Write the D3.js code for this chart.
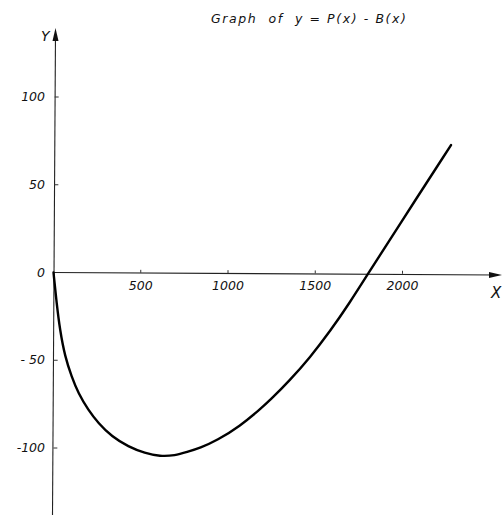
<!DOCTYPE html>
<html><head><meta charset="utf-8">
<script src="https://cdn.jsdelivr.net/npm/d3@7"></script>
<style>body{margin:0;background:#fff}svg{display:block}</style>
</head><body>
<script>
const xVals = [0, 18, 37, 66, 104, 142, 199, 257, 334, 429, 524, 610, 696, 765, 840, 937, 1069, 1183, 1241, 1354, 1470, 1585, 1699, 1800, 1974, 2278];
const yVals = [0, -17.5, -32.8, -48, -59.4, -68.8, -78.3, -85.9, -93.5, -99.3, -103, -104.8, -104.3, -102.3, -100, -95.7, -87.5, -78, -72.8, -61.5, -48.4, -33.5, -17, -1.1, 25.9, 72.6];
const xTicks = [500, 1000, 1500, 2000];
const yTicks = [100, 50, 0, -50, -100];
const yTickLabels = ["100", "50", "0", "- 50", "-100"];
const title = "Graph  of  y = P(x) - B(x)";

const W = 503, H = 515;
const svg = d3.select("body").append("svg").attr("width", W).attr("height", H);
const x = d3.scaleLinear().domain([0, 2000]).range([53.5, 402.5]);
const y = d3.scaleLinear().domain([0, 100]).range([272.5, 97]);
const font = "'DejaVu Sans', sans-serif";

// axes lines
svg.append("line").attr("x1", x(0)).attr("x2", 497).attr("y1", y(0)).attr("y2", y(0) + 2.5)
  .attr("stroke", "#222").attr("stroke-width", 1.1);
svg.append("line").attr("x1", x(0) - 1).attr("x2", x(0) + 2).attr("y1", H).attr("y2", 34)
  .attr("stroke", "#222").attr("stroke-width", 1.1);
// arrows
svg.append("path").attr("d", `M${x(0)+2-3},41 L${x(0)+2},28 L${x(0)+2+3},41 Z`).attr("fill", "#111");
svg.append("path").attr("d", `M489,${y(0)-0.5} L502,${y(0)+2.5} L489,${y(0)+5.5} Z`).attr("fill", "#111");

// ticks
svg.selectAll(".xt").data(xTicks).enter().append("line")
  .attr("x1", d => x(d)).attr("x2", d => x(d))
  .attr("y1", d => y(0) - 3 + d / 1600).attr("y2", d => y(0) + d / 1600)
  .attr("stroke", "#333").attr("stroke-width", 1);
svg.selectAll(".yt").data(yTicks.filter(d => d !== 0)).enter().append("line")
  .attr("x1", d => x(0) + 0.5 + d / 150).attr("x2", d => x(0) + 4.5 + d / 150)
  .attr("y1", d => y(d)).attr("y2", d => y(d))
  .attr("stroke", "#333").attr("stroke-width", 1);

// tick labels
svg.selectAll(".xl").data(xTicks).enter().append("text")
  .attr("x", d => x(d)).attr("y", y(0) + 17)
  .attr("text-anchor", "middle").attr("font-family", font).attr("font-style", "italic")
  .attr("font-size", 12.5).attr("fill", "#111").text(d => d);
svg.selectAll(".yl").data(yTicks).enter().append("text")
  .attr("x", 45).attr("y", d => y(d) + 4)
  .attr("text-anchor", "end").attr("font-family", font).attr("font-style", "italic")
  .attr("font-size", 12.5).attr("fill", "#111").text((d, i) => yTickLabels[i]);

// axis names
svg.append("text").attr("x", 41).attr("y", 41).attr("font-family", font).attr("font-style", "italic")
  .attr("font-size", 14).attr("fill", "#111").text("Y");
svg.append("text").attr("x", 491).attr("y", 298).attr("font-family", font).attr("font-style", "italic")
  .attr("font-size", 15).attr("fill", "#111").text("X");

// title
svg.append("text").attr("x", 211).attr("y", 23).attr("font-family", font).attr("font-style", "italic")
  .attr("font-size", 12.5).attr("letter-spacing", 1.6).attr("fill", "#111")
  .attr("xml:space", "preserve").style("white-space", "pre").text(title);

// curve
const pts = xVals.map((d, i) => [d, yVals[i]]);
svg.append("path").datum(pts)
  .attr("d", d3.line().x(d => x(d[0])).y(d => y(d[1])).curve(d3.curveBasis))
  .attr("fill", "none").attr("stroke", "#000").attr("stroke-width", 2.4).attr("stroke-linecap", "round");
</script>
</body></html>
